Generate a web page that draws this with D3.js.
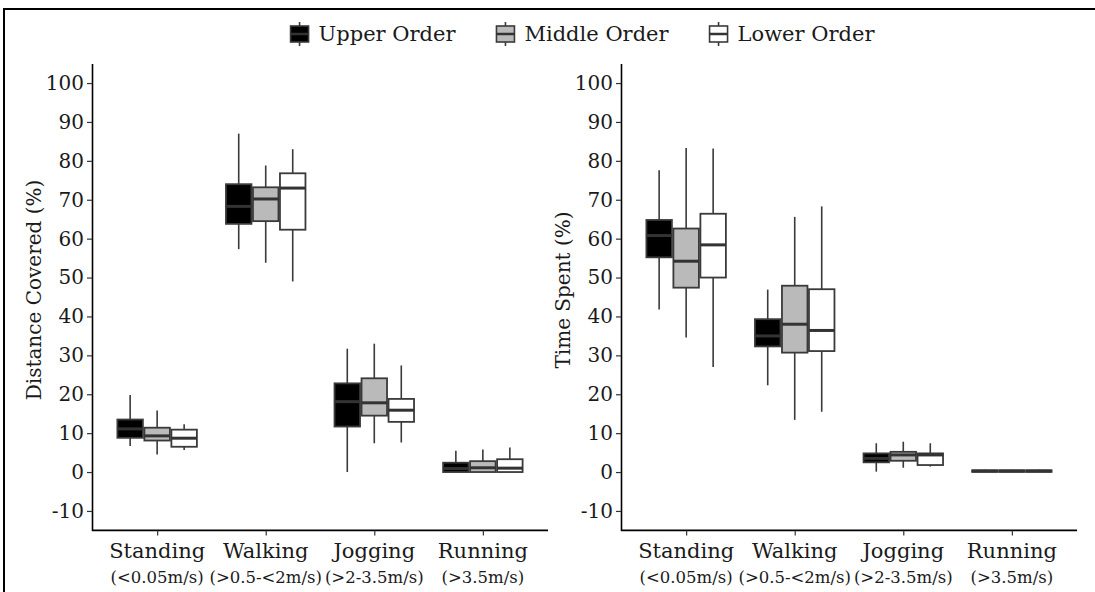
<!DOCTYPE html>
<html>
<head>
<meta charset="utf-8">
<script src="https://cdn.jsdelivr.net/npm/d3@7"></script>
<style>
  body { margin: 0; background: #fff; }
  svg text { font-family: "DejaVu Serif", serif; fill: #1a1a1a; }
</style>
</head>
<body>
<script>
//// Data ////////////////////////////////////////////
const categories = ["Standing", "Walking", "Jogging", "Running"]
const speeds = ["(<0.05m/s)", "(>0.5-<2m/s)", "(>2-3.5m/s)", "(>3.5m/s)"]
const orders = ["Upper Order", "Middle Order", "Lower Order"]
const yTicks = [-10, 0, 10, 20, 30, 40, 50, 60, 70, 80, 90, 100]

// each row: [lower whisker, q1, median, q3, upper whisker], one per category
const distUpper = [[6.7, 8.8, 11.1, 13.5, 19.8], [57.3, 63.8, 68.3, 74.0, 87.0], [0.0, 11.7, 18.1, 22.8, 31.7], [0.0, 0.0, 0.9, 2.4, 5.5]]
const distMiddle = [[4.5, 8.1, 9.3, 11.4, 15.8], [53.8, 64.5, 70.2, 73.2, 78.8], [7.4, 14.5, 17.8, 24.1, 33.0], [0.0, 0.0, 1.1, 2.8, 5.8]]
const distLower = [[5.7, 6.5, 8.7, 10.9, 12.3], [49.0, 62.3, 73.0, 76.8, 83.0], [7.6, 12.9, 15.9, 18.8, 27.4], [0.0, 0.0, 1.0, 3.3, 6.3]]

const timeUpper = [[41.8, 55.2, 60.8, 64.8, 77.6], [22.3, 32.3, 35.0, 39.3, 46.9], [0.1, 2.5, 3.5, 4.8, 7.4], [0.0, 0.05, 0.25, 0.45, 0.6]]
const timeMiddle = [[34.6, 47.4, 54.2, 62.6, 83.3], [13.4, 30.7, 38.0, 47.9, 65.6], [1.1, 2.9, 4.4, 5.2, 7.8], [0.0, 0.05, 0.25, 0.45, 0.6]]
const timeLower = [[27.0, 50.0, 58.4, 66.4, 83.2], [15.5, 31.1, 36.4, 47.0, 68.3], [1.4, 1.8, 4.4, 4.8, 7.4], [0.0, 0.05, 0.25, 0.45, 0.6]]

//// Styles //////////////////////////////////////////
const WIDTH = 1095
const HEIGHT = 592
const FILLS = { "Upper Order": "#000000", "Middle Order": "#bababa", "Lower Order": "#ffffff" }
const LINE = "#3a3a3a"

const svg = d3.select("body").append("svg")
  .attr("width", WIDTH)
  .attr("height", HEIGHT)

// outer frame (right/bottom edges sit outside the picture)
svg.append("rect")
  .attr("x", 4).attr("y", 9)
  .attr("width", WIDTH + 10).attr("height", HEIGHT + 10)
  .attr("fill", "none").attr("stroke", "#000").attr("stroke-width", 2)

const y = d3.scaleLinear().domain([-15, 105]).range([530.4, 63.6])
const dodge = d3.scaleBand().domain(orders).range([-40.5, 40.5])
const BOX_W = 25.5

function drawPanel(x0, x1, title, series) {
  const x = d3.scalePoint().domain(categories).range([x0, x1]).padding(0.6)
  const g = svg.append("g")

  // boxes
  orders.forEach((o, oi) => {
    series[oi].forEach((s, ci) => {
      const cx = x(categories[ci]) + dodge(o) + dodge.bandwidth() / 2
      const [lo, q1, med, q3, hi] = s
      g.append("line")
        .attr("x1", cx).attr("x2", cx)
        .attr("y1", y(hi)).attr("y2", y(q3))
        .attr("stroke", LINE).attr("stroke-width", 1.6)
      g.append("line")
        .attr("x1", cx).attr("x2", cx)
        .attr("y1", y(q1)).attr("y2", y(lo))
        .attr("stroke", LINE).attr("stroke-width", 1.6)
      g.append("rect")
        .attr("x", cx - BOX_W / 2).attr("width", BOX_W)
        .attr("y", y(q3)).attr("height", Math.max(0.5, y(q1) - y(q3)))
        .attr("fill", FILLS[o]).attr("stroke", LINE).attr("stroke-width", 1.8)
      g.append("line")
        .attr("x1", cx - BOX_W / 2).attr("x2", cx + BOX_W / 2)
        .attr("y1", y(med)).attr("y2", y(med))
        .attr("stroke", "#333").attr("stroke-width", 3)
    })
  })

  // y axis
  const ya = g.append("g")
    .attr("transform", `translate(${x0},0)`)
    .call(d3.axisLeft(y).tickValues(yTicks).tickSize(5).tickPadding(3)
      .tickSizeOuter(0).tickFormat(d => String(d)))
  ya.select(".domain").attr("stroke", "#000").attr("stroke-width", 1.6)
  ya.selectAll(".tick line").attr("stroke", "#333").attr("stroke-width", 1.2)
  ya.selectAll(".tick text").attr("font-size", 20).attr("fill", "#1a1a1a")
    .attr("font-family", "DejaVu Serif")

  // x axis
  const xa = g.append("g")
    .attr("transform", `translate(0,${y(-15)})`)
    .call(d3.axisBottom(x).tickSize(5).tickSizeOuter(0).tickFormat(""))
  xa.select(".domain").attr("d", `M${x0},0H${x1}`).attr("stroke", "#000").attr("stroke-width", 1.6)
  xa.selectAll(".tick line").attr("stroke", "#333").attr("stroke-width", 1.2)

  categories.forEach((c, i) => {
    g.append("text")
      .attr("x", x(c)).attr("y", 558)
      .attr("text-anchor", "middle").attr("font-size", 21)
      .text(c)
    g.append("text")
      .attr("x", x(c)).attr("y", 583)
      .attr("text-anchor", "middle").attr("font-size", 16.5)
      .text(speeds[i])
  })

  // y title
  g.append("text")
    .attr("transform", `translate(${x0 - 51},290) rotate(-90)`)
    .attr("text-anchor", "middle").attr("font-size", 20)
    .text(title)
}

drawPanel(92, 548, "Distance Covered (%)", [distUpper, distMiddle, distLower])
drawPanel(621, 1077, "Time Spent (%)", [timeUpper, timeMiddle, timeLower])

//// Legend //////////////////////////////////////////
const legend = svg.append("g")
const LEG_Y = 34
let lx = 0
orders.forEach(o => {
  const it = legend.append("g")
  it.append("line")
    .attr("x1", 10).attr("x2", 10).attr("y1", LEG_Y - 12).attr("y2", LEG_Y + 12)
    .attr("stroke", LINE).attr("stroke-width", 1.6)
  it.append("rect")
    .attr("x", 1).attr("y", LEG_Y - 8).attr("width", 18).attr("height", 16)
    .attr("fill", FILLS[o]).attr("stroke", LINE).attr("stroke-width", 1.6)
  it.append("line")
    .attr("x1", 1).attr("x2", 19).attr("y1", LEG_Y).attr("y2", LEG_Y)
    .attr("stroke", "#333").attr("stroke-width", 2.5)
  const t = it.append("text")
    .attr("x", 29).attr("y", LEG_Y).attr("dy", "0.35em")
    .attr("font-size", 21).text(o)
  const w = 29 + t.node().getComputedTextLength()
  it.attr("transform", `translate(${lx},0)`)
  lx += w + 40
})
const legW = lx - 40
legend.attr("transform", `translate(${582 - legW / 2},0)`)
</script>
</body>
</html>
